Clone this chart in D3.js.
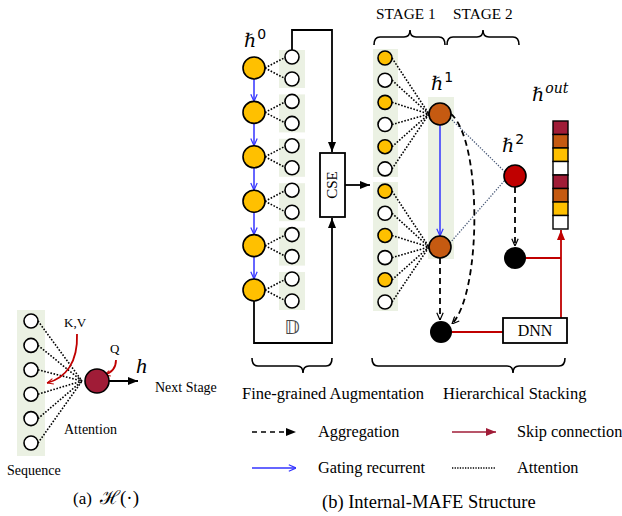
<!DOCTYPE html>
<html><head><meta charset="utf-8">
<script src="https://cdn.jsdelivr.net/npm/d3@7"></script>
<style>body{margin:0;background:#fff}</style></head>
<body><svg id="c" width="622" height="516"></svg>
<script>
// ---- data ----
const seqTokens = [0, 1, 2, 3, 4, 5];                 // (a) sequence tokens
const augLevels = [0, 1, 2, 3, 4, 5];                 // fine-grained augmentation nodes
const pairOffsets = [-1, 1];                          // two sub-tokens per node
const stageTokens = ["y","w","y","w","y","w","y","w","y","w","y","w"];
const stage1Nodes = [0, 1];                           // two ℏ¹ nodes
const outCells = ["crimson","orange","yellow","white","crimson","orange","yellow","white"];
const stageLabels = ["STAGE 1", "STAGE 2"];
const panelLabels = ["Fine-grained Augmentation", "Hierarchical Stacking"];
const legendItems = [
  {label: "Aggregation", type: "agg"},
  {label: "Skip connection", type: "skip"},
  {label: "Gating recurrent", type: "gate"},
  {label: "Attention", type: "att"}
];
const captions = ["(a)", "ℋ(·)", "(b) Internal-MAFE Structure"];

// ---- style ----
const C = {yellow:"#ffc000", orange:"#c55a11", crimson:"#a01c37", red:"#c00000",
           white:"#ffffff", green:"#ebf1e3", blue:"#3333ff", slate:"#4a5a78"};
const serif = "'Liberation Serif','Times New Roman',serif";

const svg = d3.select("#c");
const defs = svg.append("defs");
function marker(id, color, open, size) {
  const m = defs.append("marker").attr("id", id).attr("viewBox", "0 -5 10 10")
    .attr("refX", 10).attr("refY", 0).attr("markerUnits", "userSpaceOnUse")
    .attr("markerWidth", size).attr("markerHeight", size).attr("orient", "auto");
  const p = m.append("path");
  if (open) p.attr("d", "M1,-4L10,0L1,4").attr("fill", "none").attr("stroke", color).attr("stroke-width", 1.5);
  else p.attr("d", "M0,-4L10,0L0,4Z").attr("fill", color);
}
marker("aBlack", "#000", false, 10);
marker("aRed", C.red, false, 10);
marker("aCrim", C.crimson, false, 10);
marker("aBlue", C.blue, true, 8);
marker("aOpen", "#000", true, 8);
marker("aRedS", C.red, true, 7);

function text(x, y, s, size, opts = {}) {
  const t = svg.append("text").attr("x", x).attr("y", y).text(s)
    .attr("font-family", opts.family || serif).attr("font-size", size)
    .attr("fill", "#000");
  if (opts.anchor) t.attr("text-anchor", opts.anchor);
  if (opts.italic) t.attr("font-style", "italic");
  return t;
}
function hbar(x, y, sup, supItalic) {
  const t = svg.append("text").attr("x", x).attr("y", y)
    .attr("font-family", "'DejaVu Serif',serif").attr("font-size", 19).attr("font-style", "italic");
  t.append("tspan").text("ℏ");
  t.append("tspan").text(sup).attr("font-family", supItalic ? "'DejaVu Serif',serif" : "'DejaVu Sans',sans-serif")
    .attr("font-style", supItalic ? "italic" : "normal").attr("font-size", 14).attr("dy", -8).attr("dx", 1);
}
function brace(x1, x2, xt, yEnd, dir) {
  const yl = yEnd + dir * 8, yt = yEnd + dir * 15, r = 6;
  const d = `M${x1},${yEnd} Q${x1},${yl} ${x1 + r},${yl} L${xt - r},${yl} Q${xt},${yl} ${xt},${yt}` +
            ` Q${xt},${yl} ${xt + r},${yl} L${x2 - r},${yl} Q${x2},${yl} ${x2},${yEnd}`;
  svg.append("path").attr("d", d).attr("fill", "none").attr("stroke", "#000").attr("stroke-width", 1.6);
}
const dotted = (sel) => sel.attr("stroke", "#000").attr("stroke-width", 1.6).attr("stroke-dasharray", "1.6,1.6");

// ================= (a) =================
const yA = d3.scaleLinear().domain([0, 5]).range([321, 443]);
svg.append("rect").attr("x", 17).attr("y", 310).attr("width", 28).attr("height", 146).attr("fill", C.green);
svg.append("g").selectAll("line").data(seqTokens).join("line")
  .attr("x1", 38).attr("y1", d => yA(d)).attr("x2", 82).attr("y2", 381).call(dotted);
svg.append("g").selectAll("circle").data(seqTokens).join("circle")
  .attr("cx", 31).attr("cy", d => yA(d)).attr("r", 7)
  .attr("fill", "#fff").attr("stroke", "#000").attr("stroke-width", 1.6);
svg.append("path").attr("d", "M77,334 C78,362 66,378 47,383").attr("fill", "none")
  .attr("stroke", C.red).attr("stroke-width", 1.8).attr("marker-end", "url(#aRedS)");
svg.append("path").attr("d", "M116,360 C116,368 111,373 104,375").attr("fill", "none")
  .attr("stroke", C.red).attr("stroke-width", 1.8).attr("marker-end", "url(#aRedS)");
svg.append("line").attr("x1", 109).attr("y1", 381).attr("x2", 138).attr("y2", 381)
  .attr("stroke", "#000").attr("stroke-width", 2).attr("marker-end", "url(#aBlack)");
svg.append("circle").attr("cx", 97).attr("cy", 381).attr("r", 12)
  .attr("fill", C.crimson).attr("stroke", "#000").attr("stroke-width", 1.6);
text(136, 373, "h", 22, {italic: true});
text(155, 392, "Next Stage", 14);
text(64, 327, "K,V", 13);
text(110, 353, "Q", 13);
text(64, 434, "Attention", 14);
text(7, 475, "Sequence", 14);
text(73, 504, captions[0], 17);
text(100, 504, captions[1], 19);

// ================= (b) augmentation =================
const yBig = d3.scaleLinear().domain([0, 5]).range([68, 290]);
const gA = svg.append("g");
gA.selectAll("rect").data(augLevels).join("rect")
  .attr("x", 279).attr("y", d => yBig(d) - 18).attr("width", 26).attr("height", 38).attr("fill", C.green);
const pairs = augLevels.flatMap(l => pairOffsets.map(o => ({l, o})));
gA.append("g").selectAll("line").data(pairs).join("line")
  .attr("x1", 265).attr("y1", d => yBig(d.l)).attr("x2", 286).attr("y2", d => yBig(d.l) + d.o * 11).call(dotted);
gA.append("g").selectAll("circle").data(pairs).join("circle")
  .attr("cx", 292).attr("cy", d => yBig(d.l) + d.o * 11).attr("r", 7)
  .attr("fill", "#fff").attr("stroke", "#000").attr("stroke-width", 1.6);
gA.append("g").selectAll("line").data(augLevels.slice(0, -1)).join("line")
  .attr("x1", 254).attr("y1", d => yBig(d) + 11).attr("x2", 254).attr("y2", d => yBig(d + 1) - 11)
  .attr("stroke", C.blue).attr("stroke-width", 1.5).attr("marker-end", "url(#aBlue)");
gA.append("g").selectAll("circle").data(augLevels).join("circle")
  .attr("cx", 254).attr("cy", d => yBig(d)).attr("r", 11)
  .attr("fill", C.yellow).attr("stroke", "#000").attr("stroke-width", 1.6);
hbar(244, 47, "0");
svg.append("path").attr("d", `M292,${yBig(0) - 18} V30 H332 V152`).attr("fill", "none")
  .attr("stroke", "#000").attr("stroke-width", 1.8).attr("marker-end", "url(#aBlack)");
svg.append("path").attr("d", `M254,${yBig(5) + 11} V343 H332 V218`).attr("fill", "none")
  .attr("stroke", "#000").attr("stroke-width", 1.8).attr("marker-end", "url(#aBlack)");
svg.append("rect").attr("x", 320).attr("y", 153).attr("width", 25).attr("height", 64)
  .attr("fill", "#fff").attr("stroke", "#000").attr("stroke-width", 1.8);
svg.append("text").attr("transform", "translate(337,185) rotate(-90)").attr("text-anchor", "middle")
  .attr("font-family", serif).attr("font-size", 15).text("CSE");
svg.append("line").attr("x1", 345).attr("y1", 185).attr("x2", 370).attr("y2", 185)
  .attr("stroke", "#000").attr("stroke-width", 1.8).attr("marker-end", "url(#aBlack)");
text(292, 334, "𝔻", 19, {anchor: "middle", family: "'DejaVu Sans',sans-serif"}).attr("fill", "#444");

// ================= (b) hierarchical stacking =================
const yTok = d3.scaleLinear().domain([0, 11]).range([58, 302]);
const yH1 = d3.scalePoint().domain(stage1Nodes).range([114, 247]);
svg.append("rect").attr("x", 373).attr("y", 49).attr("width", 25).attr("height", 128).attr("fill", C.green);
svg.append("rect").attr("x", 373).attr("y", 182).attr("width", 25).attr("height", 129).attr("fill", C.green);
svg.append("rect").attr("x", 428).attr("y", 97).attr("width", 26).attr("height", 162).attr("fill", C.green);
svg.append("g").selectAll("line").data(stageTokens).join("line")
  .attr("x1", 392).attr("y1", (d, i) => yTok(i)).attr("x2", 429).attr("y2", (d, i) => yH1(i < 6 ? 0 : 1)).call(dotted);
svg.append("g").selectAll("circle").data(stageTokens).join("circle")
  .attr("cx", 385).attr("cy", (d, i) => yTok(i)).attr("r", 7)
  .attr("fill", d => d === "y" ? C.yellow : "#fff").attr("stroke", "#000").attr("stroke-width", 1.6);
svg.append("line").attr("x1", 440).attr("y1", yH1(0) + 11).attr("x2", 440).attr("y2", yH1(1) - 11)
  .attr("stroke", C.blue).attr("stroke-width", 1.5).attr("marker-end", "url(#aBlue)");
svg.append("g").selectAll("line").data(stage1Nodes).join("line")
  .attr("x1", 450).attr("y1", d => yH1(d) + (d ? -4 : 4)).attr("x2", 505).attr("y2", d => 176 + (d ? 4 : -4))
  .attr("stroke", C.slate).attr("stroke-width", 1.3).attr("stroke-dasharray", "1.3,1.5");
svg.append("path").attr("d", "M451,114 C482,140 482,292 452,324").attr("fill", "none")
  .attr("stroke", "#000").attr("stroke-width", 1.8).attr("stroke-dasharray", "6,4").attr("marker-end", "url(#aOpen)");
svg.append("line").attr("x1", 440).attr("y1", yH1(1) + 11).attr("x2", 440).attr("y2", 320)
  .attr("stroke", "#000").attr("stroke-width", 1.8).attr("stroke-dasharray", "6,4").attr("marker-end", "url(#aOpen)");
svg.append("line").attr("x1", 515).attr("y1", 187).attr("x2", 515).attr("y2", 246)
  .attr("stroke", "#000").attr("stroke-width", 1.8).attr("stroke-dasharray", "6,4").attr("marker-end", "url(#aOpen)");
svg.append("g").selectAll("circle").data(stage1Nodes).join("circle")
  .attr("cx", 440).attr("cy", d => yH1(d)).attr("r", 11)
  .attr("fill", C.orange).attr("stroke", "#000").attr("stroke-width", 1.6);
svg.append("circle").attr("cx", 515).attr("cy", 176).attr("r", 11)
  .attr("fill", C.red).attr("stroke", "#000").attr("stroke-width", 1.6);
svg.append("path").attr("d", "M452,332 H503").attr("stroke", C.red).attr("stroke-width", 1.8);
svg.append("path").attr("d", "M526,258 H561").attr("stroke", C.red).attr("stroke-width", 1.8);
svg.append("path").attr("d", "M561,318 V230").attr("stroke", C.red).attr("stroke-width", 1.8)
  .attr("marker-end", "url(#aRed)");
svg.append("circle").attr("cx", 515).attr("cy", 258).attr("r", 11).attr("fill", "#000");
svg.append("circle").attr("cx", 441).attr("cy", 332).attr("r", 11).attr("fill", "#000");
svg.append("rect").attr("x", 503).attr("y", 318).attr("width", 64).attr("height", 25)
  .attr("fill", "#fff").attr("stroke", "#000").attr("stroke-width", 1.8);
text(535, 336, "DNN", 16, {anchor: "middle"});
const yOut = d3.scaleBand().domain(d3.range(outCells.length)).range([121, 229]);
svg.append("g").selectAll("rect").data(outCells).join("rect")
  .attr("x", 553).attr("y", (d, i) => yOut(i)).attr("width", 15).attr("height", yOut.bandwidth())
  .attr("fill", d => C[d]).attr("stroke", "#000").attr("stroke-width", 1.4);
hbar(431, 90, "1");
hbar(502, 152, "2");
hbar(532, 101, "out", true);
stageLabels.forEach((s, i) => text([376, 453][i], 19, s, 15.3));
brace(374, 445, 410, 45, -1);
brace(447, 519, 483, 45, -1);
brace(252, 332, 303, 358, 1);
brace(372, 565, 513, 358, 1);
text(242, 399, panelLabels[0], 16.5);
text(443, 399, panelLabels[1], 16.5);

const lx = [252, 452], ly = [432, 468], tx = [318, 517];
legendItems.forEach((it, i) => {
  const col = i % 2, row = Math.floor(i / 2);
  const l = svg.append("line").attr("x1", lx[col]).attr("x2", lx[col] + 44).attr("y1", ly[row]).attr("y2", ly[row]);
  if (it.type === "agg") l.attr("stroke", "#000").attr("stroke-width", 1.6).attr("stroke-dasharray", "5,4").attr("marker-end", "url(#aBlack)");
  if (it.type === "skip") l.attr("stroke", C.crimson).attr("stroke-width", 1.6).attr("marker-end", "url(#aCrim)");
  if (it.type === "gate") l.attr("stroke", C.blue).attr("stroke-width", 1.5).attr("marker-end", "url(#aBlue)");
  if (it.type === "att") l.attr("stroke", "#000").attr("stroke-width", 1.4).attr("stroke-dasharray", "1.3,1.3");
  text(tx[col], ly[row] + 5, it.label, 16.3);
});
text(322, 508, captions[2], 18.5);
</script></body></html>
